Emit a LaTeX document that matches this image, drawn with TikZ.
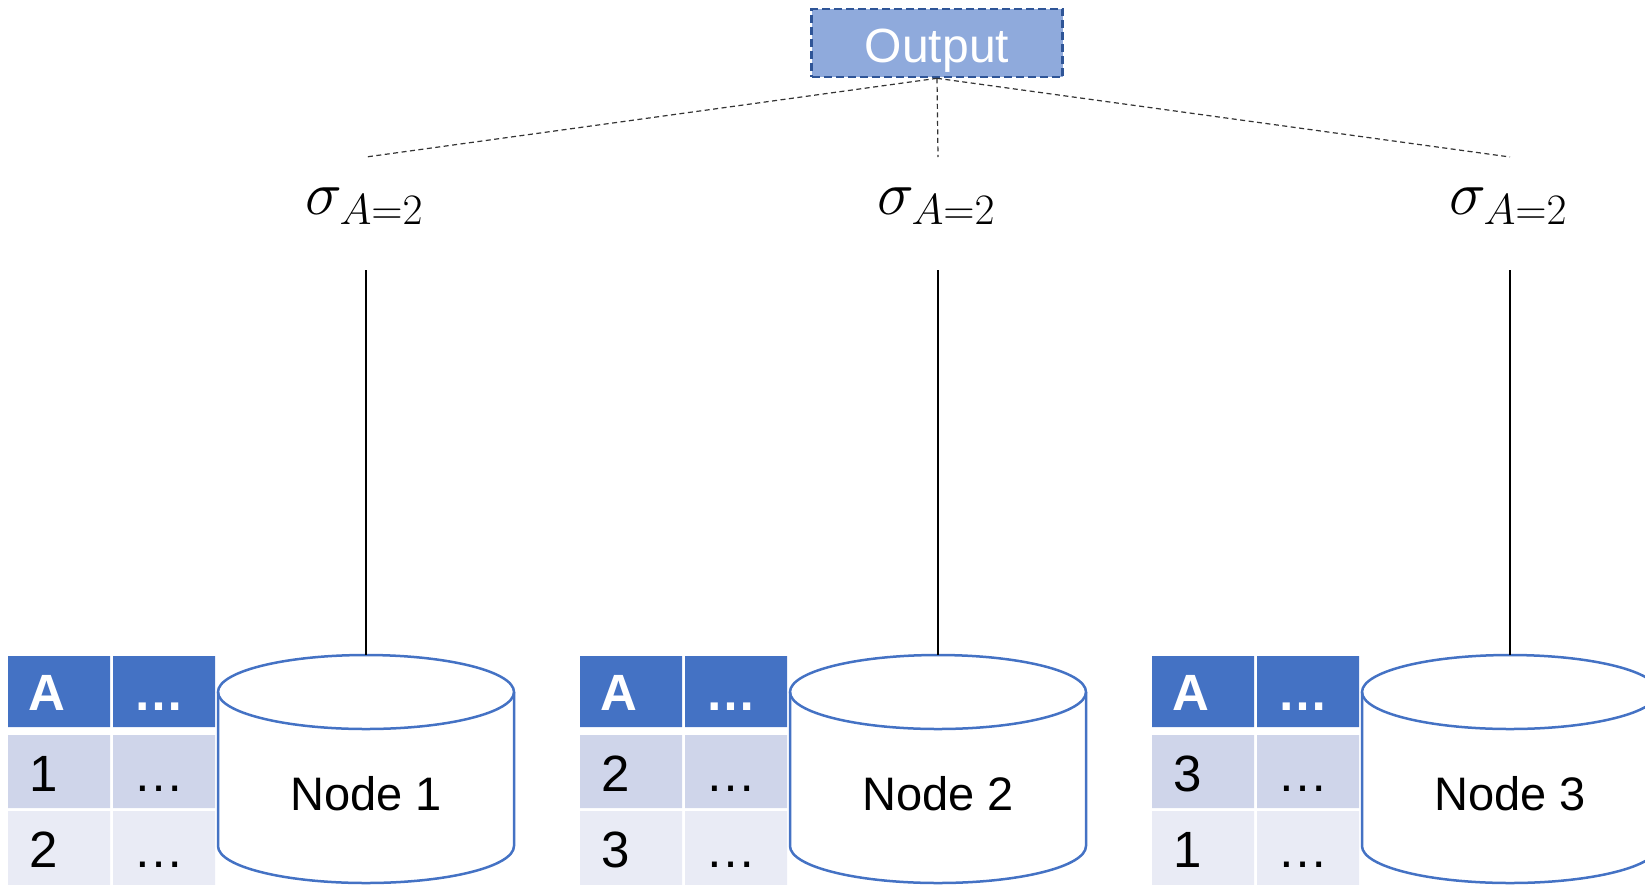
\RequirePackage{fix-cm}
\documentclass[tikz,border=0pt]{standalone}
\usepackage[no-math]{fontspec}
\setmainfont{Liberation Sans}
\usetikzlibrary{calc}
\definecolor{hdrblue}{RGB}{68,114,196}
\definecolor{rowdark}{RGB}{207,213,234}
\definecolor{rowlight}{RGB}{233,235,245}
\definecolor{outfill}{RGB}{143,170,220}
\definecolor{outdraw}{RGB}{47,85,151}

\begin{document}
\begin{tikzpicture}[x=1pt,y=-1pt,
  celltext/.style={anchor=base west,inner sep=0pt,font=\fontsize{51}{53}\selectfont},
  cyl/.style={draw=hdrblue,line width=2.5pt},
  guide/.style={black!80,line width=1.2pt,dash pattern=on 5pt off 3.5pt}]
\useasboundingbox (0,0) rectangle (1645,884);
\clip (0,0) rectangle (1645,884);
\node[draw=outdraw,fill=outfill,line width=2.6pt,dash pattern=on 8pt off 4pt,
  minimum width=251pt,minimum height=68pt,text=white,text height=39pt,text depth=0pt,
  font=\fontsize{48}{50}\selectfont] (out) at (937,43) {Output};
\foreach \i/\a/\b in {1/1/2,2/2/3,3/3/1} {
\begin{scope}[xshift={(\i-1)*572pt}]
% table
\fill[hdrblue] (8,656) rectangle (110,727) (113,656) rectangle (215,727);
\fill[rowdark] (8,735) rectangle (110,808) (113,735) rectangle (215,808);
\fill[rowlight] (8,811) rectangle (110,890) (113,811) rectangle (215,890);
\node[celltext,text=white,font=\fontsize{51}{53}\selectfont\bfseries] (h\i) at (28,710) {A};
\node[celltext,text=white,font=\fontsize{51}{53}\selectfont\bfseries] (hd\i) at (133,710) {…};
\node[celltext] (ra\i) at (29,791) {\a};
\node[celltext] (rad\i) at (133,791) {…};
\node[celltext] (rb\i) at (29,867) {\b};
\node[celltext] (rbd\i) at (133,867) {…};
% cylinder
\draw[cyl] (218,692) -- (218,846) arc[start angle=180,end angle=360,x radius=148pt,y radius=37pt] -- (514,692);
\draw[cyl] (366,692) ellipse [x radius=148pt,y radius=37pt];
\node[font=\fontsize{47}{49}\selectfont] (n\i) at (366,794) {Node \i};
\coordinate (cap\i) at (366,655);
% selection
\node[font=\fontsize{62}{64}\selectfont] (sig\i) at (364,206) {$\sigma_{A=2}$};
\coordinate (up\i) at (366,270);
\coordinate (dn\i) at (366,157);
\draw[line width=1.2pt] (up\i) -- (cap\i);
\end{scope}
\draw[guide] (out.south) -- (dn\i);
}
\end{tikzpicture}
\end{document}
